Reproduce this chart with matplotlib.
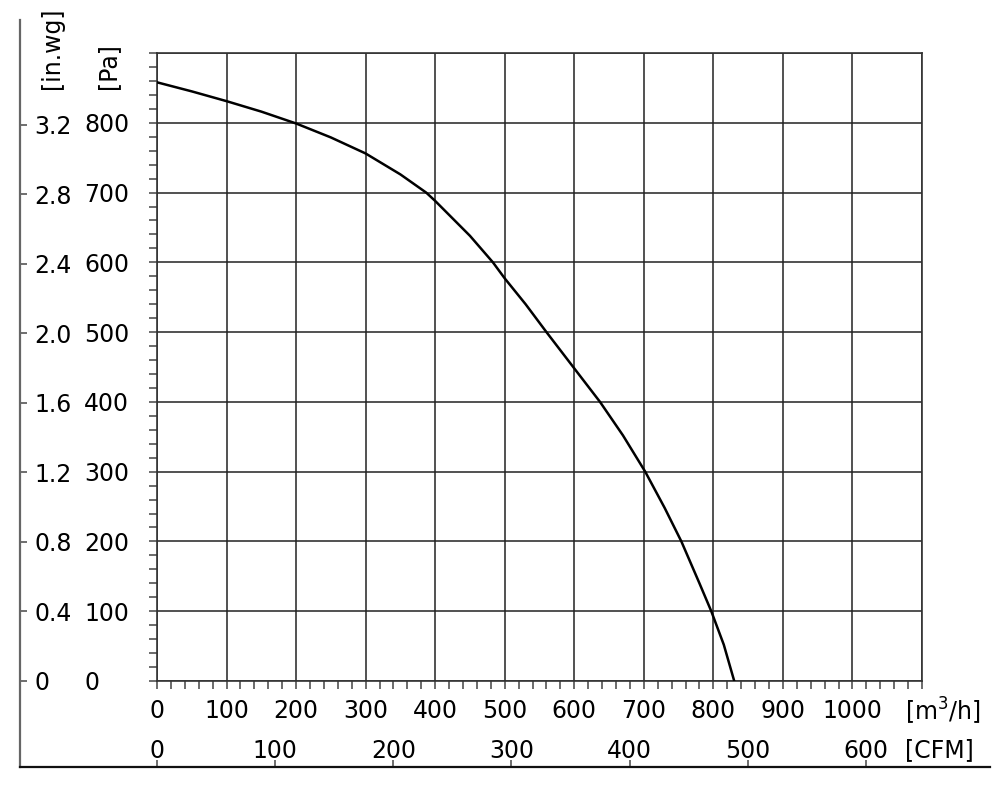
import matplotlib
matplotlib.use("Agg")
import matplotlib.pyplot as plt
import matplotlib.transforms as mtrans

# fan curve
flow_m3h = [0, 50, 100, 150, 200, 250, 300, 350, 387, 400, 450, 483, 500, 530,
            560, 600, 637, 670, 702, 730, 754, 780, 797, 815, 830]
pressure_pa = [858, 845, 831, 816, 799, 779, 756, 726, 700, 688, 638, 600, 577, 540,
               500, 448, 400, 352, 300, 248, 200, 140, 100, 52, 0]

m3h_ticks = [0, 100, 200, 300, 400, 500, 600, 700, 800, 900, 1000]
cfm_ticks = [0, 100, 200, 300, 400, 500, 600]
pa_ticks = [0, 100, 200, 300, 400, 500, 600, 700, 800]
inwg_ticks = [0, 0.4, 0.8, 1.2, 1.6, 2.0, 2.4, 2.8, 3.2]

M3H_PER_CFM = 1.699
PA_PER_INWG = 249.09

W, H = 1008, 787
fig = plt.figure(figsize=(W / 100, H / 100), dpi=100)
plt.rcParams['font.family'] = 'DejaVu Sans'
FS = 17


def box(x0, y0, x1, y1):
    return [x0 / W, 1 - y1 / H, (x1 - x0) / W, (y1 - y0) / H]


# plot area in pixels
PL, PR, PT, PB = 157, 922, 53, 681
# outer frame in pixels
OL, OR, OT, OB = 20, 990, 20, 767

ax_out = fig.add_axes(box(OL, OT, OR, OB))
ax = fig.add_axes(box(PL, PT, PR, PB))

# outer axes in CFM / in.wg, scaled to line up with the main axes
px_m3h = (PR - PL) / 1100
px_pa = (PB - PT) / 900
ax_out.set_xlim((OL - PL) / (px_m3h * M3H_PER_CFM), (OR - PL) / (px_m3h * M3H_PER_CFM))
ax_out.set_ylim((PB - OB) / (px_pa * PA_PER_INWG), (PB - OT) / (px_pa * PA_PER_INWG))
ax_out.set_facecolor('none')
for s in ['top', 'right']:
    ax_out.spines[s].set_visible(False)
ax_out.spines['left'].set_color('#666666')
ax_out.spines['left'].set_linewidth(1.6)
ax_out.spines['bottom'].set_color('#111111')
ax_out.spines['bottom'].set_linewidth(1.6)
ax_out.set_xticks(cfm_ticks)
ax_out.set_yticks(inwg_ticks)
ax_out.tick_params(direction='in', length=5, width=1.2, colors='#555555',
                   labelbottom=False, labelleft=False)

# main chart
ax.plot(flow_m3h, pressure_pa, color='black', lw=1.8, zorder=3)
ax.set_xlim(0, 1100)
ax.set_ylim(0, 900)
ax.set_xticks(range(0, 1101, 100))
ax.set_xticks(range(0, 1101, 20), minor=True)
ax.set_yticks(range(0, 901, 100))
ax.set_yticks(range(0, 901, 20), minor=True)
ax.tick_params(which='both', direction='out', length=6, width=1.1, colors='#444444',
               labelbottom=False, labelleft=False)
ax.grid(True, which='major', color='#222222', lw=1.1)
for s in ax.spines.values():
    s.set_color('#333333')
    s.set_linewidth(1.2)

# tick labels as text
tr = mtrans.blended_transform_factory(ax.transData, fig.transFigure)
for v in m3h_ticks:
    ax.text(v, 1 - 708 / H, str(v), transform=tr, ha='center', va='center_baseline', fontsize=FS)
tr = mtrans.blended_transform_factory(ax_out.transData, fig.transFigure)
for v in cfm_ticks:
    ax_out.text(v, 1 - 748 / H, str(v), transform=tr, ha='center', va='center_baseline', fontsize=FS)
tr = mtrans.blended_transform_factory(fig.transFigure, ax.transData)
for v in pa_ticks:
    ax.text(84 / W, v, str(v), transform=tr, ha='left', va='center_baseline', fontsize=FS)
tr = mtrans.blended_transform_factory(fig.transFigure, ax_out.transData)
for v in inwg_ticks:
    ax_out.text(34 / W, v, '%.1f' % v if v else '0', transform=tr, ha='left',
                va='center_baseline', fontsize=FS)

# unit labels
fig.text(52 / W, 1 - 89 / H, '[in.wg]', rotation=90, ha='center', va='bottom', fontsize=FS)
fig.text(108 / W, 1 - 89 / H, '[Pa]', rotation=90, ha='center', va='bottom', fontsize=FS)
fig.text(905 / W, 1 - 708 / H, '[m$^3$/h]', ha='left', va='center_baseline', fontsize=FS)
fig.text(905 / W, 1 - 748 / H, '[CFM]', ha='left', va='center_baseline', fontsize=FS)

fig.savefig('out.png', dpi=100, facecolor='white')
